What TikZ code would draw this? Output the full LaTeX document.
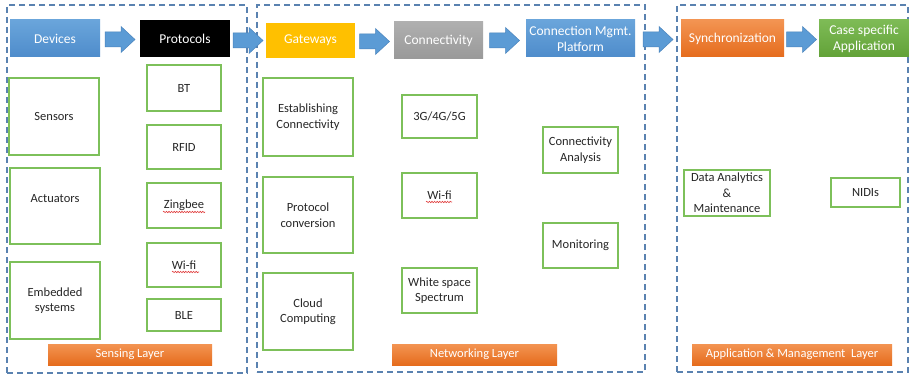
\documentclass[tikz,border=0pt]{standalone}
\usepackage{fontspec}
\setmainfont{Carlito}
\usetikzlibrary{calc,decorations.pathmorphing}
\definecolor{dashblue}{HTML}{5A82B0}
\definecolor{gbord}{HTML}{7DC05A}
\definecolor{bluetop}{HTML}{6AA5DB}
\definecolor{bluebot}{HTML}{4E8CCB}
\definecolor{arrowblue}{HTML}{5B9BD5}
\definecolor{arrowedge}{HTML}{4A84BD}
\definecolor{goldc}{HTML}{FFC000}
\definecolor{graytop}{HTML}{AFAFAF}
\definecolor{graybot}{HTML}{999999}
\definecolor{orgtop}{HTML}{F39452}
\definecolor{orgbot}{HTML}{E56C1D}
\definecolor{grntop}{HTML}{7EBB56}
\definecolor{grnbot}{HTML}{62A238}
\definecolor{txtdark}{HTML}{262626}
\definecolor{squig}{HTML}{E03A3A}
\tikzset{
  layer/.style={draw=dashblue, line width=1.1pt, dash pattern=on 6pt off 4pt, inner sep=0pt},
  hdr/.style={rectangle, text=white, align=center, inner sep=0pt, font=\fontsize{13.5}{16}\selectfont},
  gbox/.style={rectangle, draw=gbord, line width=1.2pt, fill=white, text=txtdark, align=center, inner sep=0pt, font=\fontsize{12.5}{15.5}\selectfont},
  lbl/.style={rectangle, top color=orgtop, bottom color=orgbot, text=white, inner sep=0pt, font=\fontsize{12.5}{15}\selectfont, minimum height=21pt},
  barrow/.style={fill=arrowblue, draw=arrowedge, line width=0.5pt},
  wavy/.style={draw=squig, line width=0.6pt, decorate, decoration={snake, amplitude=0.7pt, segment length=2.6pt}}
}
\newcommand\blkarrow[3]{%
  \coordinate (#1) at ($(#2.east)!0.5!(#3.west)+(0,1)$);
  \filldraw[barrow] ($(#1)+(-15,-7.5)$) -- ($(#1)+(1,-7.5)$) -- ($(#1)+(1,-13)$) -- ($(#1)+(15,0)$) -- ($(#1)+(1,13)$) -- ($(#1)+(1,7.5)$) -- ($(#1)+(-15,7.5)$) -- cycle;}
\begin{document}
\begin{tikzpicture}[x=1pt,y=-1pt]
\useasboundingbox[fill=white] (0,0) rectangle (909,374);
% layers
\node[layer, minimum width=240pt, minimum height=368pt] (L1) at (127,189) {};
\node[layer, minimum width=388pt, minimum height=367pt] (L2) at (451,188.5) {};
\node[layer, minimum width=231pt, minimum height=367pt] (L3) at (792.5,188.5) {};
% headers
\node[hdr, top color=bluetop, bottom color=bluebot, minimum width=90pt, minimum height=37pt] (dev) at (55,38.5) {Devices};
\node[hdr, fill=black, minimum width=90pt, minimum height=37pt] (prot) at (185,38.5) {Protocols};
\node[hdr, fill=goldc, minimum width=89pt, minimum height=35pt] (gate) at (310.5,40.5) {Gateways};
\node[hdr, top color=graytop, bottom color=graybot, minimum width=89pt, minimum height=37pt] (conn) at (438.5,40.5) {Connectivity};
\node[hdr, top color=bluetop, bottom color=bluebot, minimum width=109pt, minimum height=37pt] (cmp) at (580.5,38.5) {Connection Mgmt.\\Platform};
\node[hdr, top color=orgtop, bottom color=orgbot, minimum width=103pt, minimum height=37pt] (sync) at (732.5,38.5) {Synchronization};
\node[hdr, top color=grntop, bottom color=grnbot, minimum width=90pt, minimum height=37pt] (case) at (864,38.5) {Case specific\\Application};
% block arrows
\blkarrow{a1}{dev}{prot}
\blkarrow{a2}{prot}{gate}
\blkarrow{a3}{gate}{conn}
\blkarrow{a4}{conn}{cmp}
\blkarrow{a5}{cmp}{sync}
\blkarrow{a6}{sync}{case}
% sensing layer boxes
\node[gbox, minimum width=90pt, minimum height=77pt] (sens) at (54,116.5) {Sensors};
\node[gbox, minimum width=90pt, minimum height=76pt] (act) at (55,206) {Actuators\\\mbox{}};
\node[gbox, minimum width=90pt, minimum height=77pt] (emb) at (55,300.5) {Embedded\\systems};
\node[gbox, minimum width=74pt, minimum height=46pt] (bt) at (184,88) {BT};
\node[gbox, minimum width=74pt, minimum height=44pt] (rfid) at (184,147) {RFID};
\node[gbox, minimum width=74pt, minimum height=45pt] (zing) at (184,205.5) {Zingbee};
\node[gbox, minimum width=74pt, minimum height=44pt] (wifa) at (184,265) {Wi-fi};
\node[gbox, minimum width=74pt, minimum height=32pt] (ble) at (184,315) {BLE};
% networking layer boxes
\node[gbox, minimum width=90pt, minimum height=78pt] (estab) at (308,117) {Establishing\\Connectivity};
\node[gbox, minimum width=90pt, minimum height=76pt] (pconv) at (308,215) {Protocol\\conversion};
\node[gbox, minimum width=90pt, minimum height=77pt] (cloud) at (308,311.5) {Cloud\\Computing};
\node[gbox, minimum width=75pt, minimum height=43pt] (g345) at (439.5,116.5) {3G/4G/5G};
\node[gbox, minimum width=75pt, minimum height=45pt] (wifb) at (439.5,195.5) {Wi-fi};
\node[gbox, minimum width=75pt, minimum height=45pt] (white) at (439.5,290.5) {White space\\Spectrum};
\node[gbox, minimum width=75pt, minimum height=46pt] (cana) at (580.5,150) {Connectivity\\Analysis};
\node[gbox, minimum width=75pt, minimum height=45pt] (monit) at (580.5,245.5) {Monitoring};
% application layer boxes
\node[gbox, minimum width=86pt, minimum height=46pt] (data) at (727,193) {Data Analytics\\\&\\Maintenance};
\node[gbox, minimum width=69pt, minimum height=29pt] (nidi) at (865.5,192.5) {NIDIs};
% spell-check squiggles
\draw[wavy] ($(zing.center)+(-21,6.5)$) -- ($(zing.center)+(21,6.5)$);
\draw[wavy] ($(wifa.center)+(-12,7)$) -- ($(wifa.center)+(15,7)$);
\draw[wavy] ($(wifb.center)+(-13.5,6.5)$) -- ($(wifb.center)+(12.5,6.5)$);
% layer labels
\node[lbl, minimum width=164pt] (lsens) at (130,354.5) {Sensing Layer};
\node[lbl, minimum width=165pt] (lnet) at (474.5,354.5) {Networking Layer};
\node[lbl, minimum width=200pt] (lapp) at (792,354.5) {Application \& Management~ Layer};
\end{tikzpicture}
\end{document}
